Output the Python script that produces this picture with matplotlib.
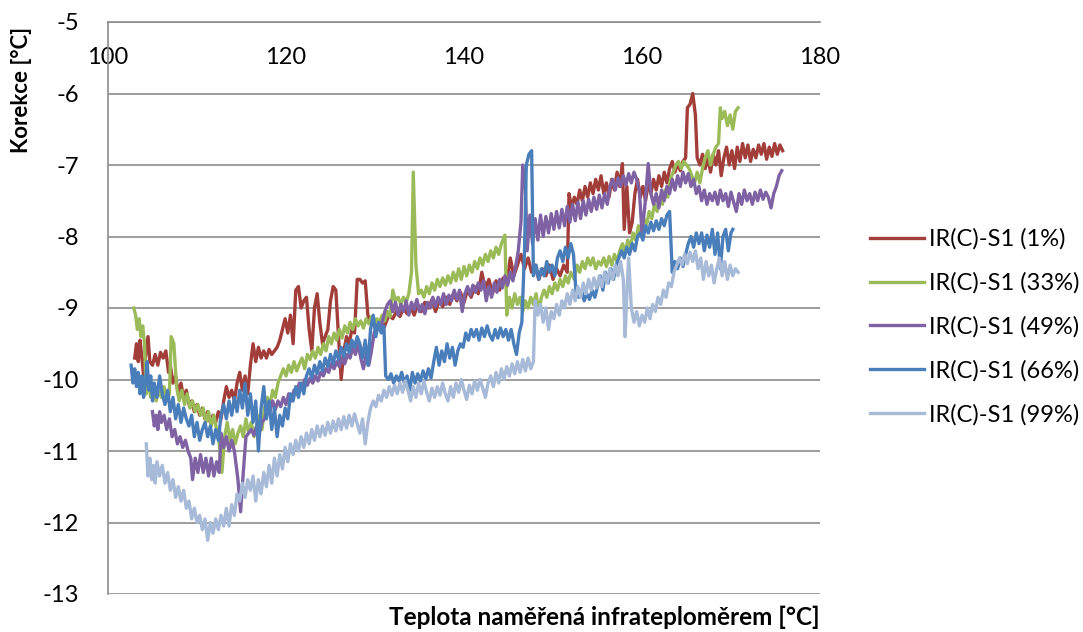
import matplotlib
matplotlib.use('Agg')
import matplotlib.pyplot as plt
import numpy as np

# values, (temperature, correction) pairs per series
red_pts = [(103.0,-9.70),(103.2,-9.50),(103.4,-9.75),(103.6,-9.45),(103.8,-9.68),(104.0,-9.95),(104.2,-9.70),(104.5,-9.40),
    (104.7,-9.75),(105.0,-9.80),(105.3,-9.65),(105.6,-9.80),(105.9,-9.62),(106.2,-9.70),(106.5,-9.60),(106.8,-9.90),(107.0,-9.80),
    (107.3,-10.05),(107.6,-9.95),(107.9,-10.20),(108.2,-10.05),(108.5,-10.25),(108.8,-10.15),(109.1,-10.35),(109.4,-10.30),
    (109.7,-10.45),(110.0,-10.35),(110.3,-10.50),(110.6,-10.40),(110.9,-10.55),(111.2,-10.45),(111.5,-10.60),(111.8,-10.50),
    (112.1,-10.60),(112.4,-10.45),(112.7,-10.55),(113.0,-10.30),(113.3,-10.10),(113.6,-10.25),(113.9,-10.15),(114.2,-10.30),
    (114.5,-10.05),(114.8,-9.90),(115.1,-10.15),(115.4,-9.95),(115.7,-10.20),(116.0,-9.80),(116.3,-9.50),(116.6,-9.75),
    (116.9,-9.55),(117.2,-9.70),(117.5,-9.60),(117.8,-9.70),(118.1,-9.58),(118.4,-9.65),(118.7,-9.60),(119.0,-9.55),(119.3,-9.45),
    (119.6,-9.30),(119.9,-9.15),(120.2,-9.35),(120.5,-9.10),(120.8,-9.50),(121.1,-8.75),(121.4,-8.70),(121.7,-9.00),(122.0,-8.90),
    (122.3,-8.85),(122.6,-9.30),(122.9,-9.60),(123.2,-9.00),(123.5,-8.80),(123.8,-9.20),(124.1,-9.50),(124.4,-9.40),(124.7,-9.30),
    (125.0,-8.90),(125.3,-8.70),(125.6,-8.75),(125.9,-9.40),(126.2,-10.00),(126.5,-9.60),(126.8,-9.40),(127.1,-9.50),(127.4,-9.30),
    (127.7,-9.35),(128.0,-8.60),(128.3,-8.60),(128.6,-8.65),(128.9,-8.62),(129.2,-9.10),(129.5,-9.20),(129.8,-9.15),(130.1,-9.25),
    (130.4,-9.30),(130.7,-9.20),(131.0,-9.28),(131.3,-9.18),(131.6,-9.10),(132.0,-9.15),(132.4,-9.05),(132.8,-9.12),(133.2,-9.00),
    (133.6,-9.08),(134.0,-8.98),(134.4,-9.10),(134.8,-8.95),(135.2,-9.05),(135.6,-8.92),(136.0,-9.00),(136.4,-8.88),(136.8,-9.05),
    (137.2,-8.90),(137.6,-8.98),(138.0,-8.85),(138.4,-8.95),(138.8,-8.80),(139.2,-8.90),(139.6,-8.78),(140.0,-8.92),(140.4,-8.75),
    (140.8,-8.85),(141.2,-8.70),(141.6,-8.80),(142.0,-8.50),(142.4,-8.72),(142.8,-8.60),(143.2,-8.80),(143.6,-8.62),(144.0,-8.75),
    (144.4,-8.58),(144.8,-8.70),(145.2,-8.30),(145.6,-8.55),(146.0,-8.40),(146.4,-8.25),(146.8,-8.45),(147.2,-8.30),(147.6,-8.50),
    (148.0,-8.40),(148.4,-8.60),(148.8,-8.45),(149.2,-8.55),(149.6,-8.40),(150.0,-8.60),(150.4,-8.45),(150.8,-8.55),(151.2,-8.40),
    (151.6,-8.50),(151.8,-7.40),(152.1,-7.60),(152.4,-7.45),(152.7,-7.55),(153.0,-7.35),(153.3,-7.50),(153.6,-7.30),(153.9,-7.45),
    (154.2,-7.25),(154.5,-7.40),(154.8,-7.20),(155.1,-7.35),(155.4,-7.15),(155.7,-7.40),(156.0,-7.25),(156.3,-7.45),(156.6,-7.20),
    (156.9,-7.35),(157.2,-7.10),(157.5,-7.30),(157.8,-6.98),(158.0,-7.90),(158.3,-7.30),(158.6,-7.95),(158.9,-7.80),(159.2,-7.40),
    (159.5,-7.20),(159.8,-7.45),(160.1,-7.30),(160.4,-7.50),(160.7,-7.25),(161.0,-7.40),(161.3,-7.20),(161.6,-7.35),(161.9,-7.15),
    (162.2,-7.30),(162.5,-7.10),(162.8,-7.25),(163.1,-7.05),(163.4,-6.95),(163.7,-7.10),(164.0,-6.98),(164.3,-7.08),(164.6,-6.95),
    (164.9,-6.90),(165.1,-6.20),(165.4,-6.15),(165.7,-6.00),(166.0,-6.30),(166.2,-6.90),(166.5,-7.00),(166.8,-6.85),(167.1,-7.05),
    (167.4,-6.90),(167.7,-7.10),(168.0,-6.85),(168.3,-7.00),(168.6,-6.80),(168.9,-7.15),(169.2,-6.90),(169.5,-6.75),(169.8,-7.00),
    (170.1,-6.80),(170.4,-7.05),(170.7,-6.75),(171.0,-6.95),(171.3,-6.70),(171.6,-6.90),(171.9,-6.72),(172.2,-6.95),(172.5,-6.78),
    (172.8,-6.90),(173.1,-6.72),(173.4,-6.85),(173.7,-6.70),(174.0,-6.92),(174.3,-6.75),(174.6,-6.88),(174.9,-6.70),(175.2,-6.85),
    (175.5,-6.72),(175.8,-6.80)]

green_pts = [(102.9,-9.00),(103.1,-9.10),(103.3,-9.30),(103.5,-9.15),(103.7,-9.40),(103.9,-9.25),(104.1,-9.50),(104.3,-10.20),
    (104.5,-10.00),(104.8,-10.25),(105.1,-10.10),(105.4,-10.30),(105.7,-10.15),(106.0,-10.25),(106.3,-10.10),(106.6,-10.30),
    (106.9,-10.20),(107.1,-9.40),(107.4,-9.50),(107.7,-10.10),(108.0,-10.30),(108.3,-10.15),(108.6,-10.35),(108.9,-10.20),
    (109.2,-10.40),(109.5,-10.30),(109.8,-10.45),(110.1,-10.35),(110.4,-10.50),(110.7,-10.40),(111.0,-10.60),(111.3,-10.45),
    (111.6,-10.65),(111.9,-10.50),(112.2,-10.70),(112.5,-10.90),(112.8,-11.30),(113.1,-10.80),(113.4,-10.60),(113.7,-10.85),
    (114.0,-10.70),(114.3,-10.90),(114.6,-10.75),(114.9,-10.65),(115.2,-10.80),(115.5,-10.55),(115.8,-10.75),(116.1,-10.60),
    (116.4,-10.80),(116.7,-10.65),(117.0,-10.50),(117.3,-10.70),(117.6,-10.40),(117.9,-10.25),(118.2,-10.35),(118.5,-10.15),
    (118.8,-10.25),(119.1,-10.05),(119.4,-9.95),(119.7,-9.85),(120.0,-9.95),(120.3,-9.80),(120.6,-9.90),(120.9,-9.75),(121.2,-9.88),
    (121.5,-9.78),(121.8,-9.70),(122.1,-9.85),(122.4,-9.65),(122.7,-9.72),(123.0,-9.60),(123.3,-9.70),(123.6,-9.55),(123.9,-9.65),
    (124.2,-9.50),(124.5,-9.60),(124.8,-9.40),(125.1,-9.50),(125.4,-9.35),(125.7,-9.45),(126.0,-9.30),(126.3,-9.42),(126.6,-9.25),
    (126.9,-9.35),(127.2,-9.20),(127.5,-9.30),(127.8,-9.15),(128.1,-9.25),(128.4,-9.18),(128.7,-9.28),(129.0,-9.15),(129.3,-9.22),
    (129.6,-9.12),(129.9,-9.25),(130.2,-9.15),(130.5,-9.20),(130.8,-9.10),(131.1,-9.18),(131.4,-9.05),(131.7,-9.12),(132.0,-8.75),
    (132.3,-8.90),(132.6,-8.85),(132.9,-8.95),(133.2,-8.85),(133.5,-8.92),(133.8,-8.80),(134.1,-8.50),(134.3,-7.10),(134.6,-8.40),
    (134.9,-8.80),(135.2,-8.75),(135.5,-8.85),(135.8,-8.70),(136.1,-8.80),(136.4,-8.65),(136.7,-8.75),(137.0,-8.60),(137.3,-8.70),
    (137.6,-8.58),(137.9,-8.68),(138.2,-8.55),(138.5,-8.65),(138.8,-8.50),(139.1,-8.62),(139.4,-8.45),(139.7,-8.60),(140.0,-8.42),
    (140.3,-8.55),(140.6,-8.40),(140.9,-8.50),(141.2,-8.35),(141.5,-8.45),(141.8,-8.30),(142.1,-8.40),(142.4,-8.25),(142.7,-8.35),
    (143.0,-8.20),(143.3,-8.30),(143.6,-8.15),(143.9,-8.25),(144.2,-8.10),(144.6,-7.98),(144.8,-9.10),(145.1,-8.85),(145.4,-9.00),
    (145.7,-8.80),(146.0,-8.95),(146.3,-8.85),(146.6,-9.05),(146.9,-8.90),(147.2,-9.00),(147.5,-8.85),(147.8,-8.95),(148.1,-8.80),
    (148.4,-9.05),(148.7,-8.85),(149.0,-8.75),(149.3,-8.85),(149.6,-8.70),(149.9,-8.80),(150.2,-8.65),(150.5,-8.75),(150.8,-8.60),
    (151.1,-8.70),(151.4,-8.55),(151.7,-8.65),(152.0,-8.50),(152.4,-8.60),(152.7,-8.40),(153.0,-8.50),(153.3,-8.35),(153.6,-8.45),
    (153.9,-8.30),(154.2,-8.40),(154.5,-8.30),(154.8,-8.45),(155.1,-8.35),(155.4,-8.40),(155.7,-8.30),(156.0,-8.42),(156.3,-8.28),
    (156.6,-8.40),(156.9,-8.25),(157.2,-8.35),(157.5,-8.20),(157.8,-8.10),(158.1,-8.22),(158.4,-8.05),(158.7,-8.15),(159.0,-7.95),
    (159.3,-8.05),(159.6,-7.85),(159.9,-7.95),(160.2,-7.75),(160.5,-7.85),(160.8,-7.65),(161.1,-7.75),(161.4,-7.55),(161.7,-7.65),
    (162.0,-7.45),(162.3,-7.55),(162.6,-7.35),(162.9,-7.45),(163.2,-7.20),(163.5,-7.10),(163.8,-7.00),(164.1,-6.95),(164.4,-7.05),
    (164.7,-6.95),(165.0,-7.00),(165.3,-7.05),(165.6,-7.15),(165.9,-7.25),(166.2,-7.10),(166.5,-7.25),(166.8,-7.05),(167.1,-6.90),
    (167.4,-6.80),(167.7,-7.00),(168.0,-6.85),(168.3,-6.75),(168.6,-6.70),(168.8,-6.20),(169.0,-6.35),(169.3,-6.25),(169.6,-6.45),
    (169.9,-6.30),(170.2,-6.50),(170.5,-6.25),(170.8,-6.20)]

purple_pts = [(105.0,-10.45),(105.2,-10.65),(105.4,-10.50),(105.6,-10.70),(105.8,-10.45),(106.0,-10.60),(106.3,-10.50),
    (106.6,-10.70),(106.9,-10.55),(107.2,-10.80),(107.5,-10.70),(107.8,-10.90),(108.1,-10.80),(108.4,-10.95),(108.7,-10.85),
    (109.0,-11.00),(109.3,-11.10),(109.5,-11.40),(109.8,-11.10),(110.1,-11.30),(110.4,-11.05),(110.7,-11.30),(111.0,-11.10),
    (111.3,-11.35),(111.6,-11.10),(111.9,-11.35),(112.2,-11.15),(112.5,-11.30),(112.7,-10.75),(113.0,-10.95),(113.3,-10.80),
    (113.6,-11.00),(113.9,-10.85),(114.2,-11.00),(114.6,-11.40),(114.9,-11.85),(115.2,-11.30),(115.5,-10.80),(115.8,-10.75),
    (116.1,-10.70),(116.4,-10.78),(116.7,-10.65),(117.0,-10.75),(117.3,-10.60),(117.6,-10.55),(117.9,-10.40),(118.2,-10.45),
    (118.5,-10.30),(118.8,-10.42),(119.1,-10.30),(119.4,-10.38),(119.7,-10.25),(120.0,-10.35),(120.3,-10.20),(120.6,-10.30),
    (120.9,-10.15),(121.2,-10.20),(121.5,-10.05),(121.8,-10.12),(122.1,-10.00),(122.4,-10.08),(122.7,-9.98),(123.0,-10.05),
    (123.3,-9.95),(123.6,-10.02),(123.9,-9.90),(124.2,-9.95),(124.5,-9.85),(124.8,-9.90),(125.1,-9.78),(125.4,-9.85),(125.7,-9.75),
    (126.0,-9.82),(126.3,-9.70),(126.6,-9.78),(126.9,-9.65),(127.2,-9.70),(127.5,-9.55),(127.8,-9.65),(128.1,-9.50),(128.4,-9.70),
    (128.7,-9.85),(129.0,-9.65),(129.3,-9.80),(129.6,-9.60),(129.9,-9.35),(130.2,-9.25),(130.5,-9.30),(130.8,-9.20),(131.1,-9.05),
    (131.4,-8.95),(131.7,-8.90),(132.0,-9.05),(132.3,-8.92),(132.6,-9.10),(132.9,-8.95),(133.2,-9.05),(133.5,-8.90),(133.8,-9.10),
    (134.1,-8.92),(134.4,-9.02),(134.7,-8.88),(135.0,-9.05),(135.3,-8.95),(135.6,-9.08),(135.9,-8.92),(136.2,-9.00),(136.5,-8.85),
    (136.8,-8.98),(137.1,-8.85),(137.4,-8.95),(137.7,-8.80),(138.0,-8.95),(138.3,-8.82),(138.6,-8.90),(138.9,-8.75),(139.2,-8.88),
    (139.5,-8.75),(139.8,-9.05),(140.1,-8.80),(140.4,-8.70),(140.7,-8.82),(141.0,-8.68),(141.3,-8.78),(141.6,-8.65),(141.9,-8.75),
    (142.2,-8.62),(142.5,-8.90),(142.8,-8.70),(143.1,-8.85),(143.4,-8.65),(143.7,-8.78),(144.0,-8.60),(144.3,-8.72),(144.6,-8.55),
    (144.9,-8.68),(145.2,-8.50),(145.5,-8.62),(145.8,-8.42),(146.1,-8.20),(146.4,-7.80),(146.6,-7.00),(146.9,-7.30),(147.1,-8.20),
    (147.4,-7.70),(147.7,-8.10),(148.0,-7.75),(148.3,-8.05),(148.6,-7.70),(148.9,-8.00),(149.2,-7.72),(149.5,-7.95),(149.8,-7.68),
    (150.1,-7.90),(150.4,-7.65),(150.7,-7.88),(151.0,-7.62),(151.3,-7.85),(151.6,-7.58),(151.9,-7.80),(152.2,-7.55),(152.5,-7.78),
    (152.8,-7.52),(153.1,-7.75),(153.4,-7.50),(153.7,-7.70),(154.0,-7.48),(154.3,-7.65),(154.6,-7.45),(154.9,-7.62),(155.2,-7.42),
    (155.5,-7.60),(155.8,-7.40),(156.1,-7.55),(156.4,-7.30),(156.7,-7.20),(157.0,-7.35),(157.3,-7.18),(157.6,-7.30),(157.9,-7.15),
    (158.2,-7.28),(158.5,-7.12),(158.8,-7.25),(159.1,-7.10),(159.4,-7.20),(159.7,-7.35),(160.0,-7.95),(160.3,-7.60),(160.7,-6.98),
    (161.0,-7.40),(161.3,-7.55),(161.6,-7.40),(161.9,-7.60),(162.2,-7.35),(162.5,-7.50),(162.8,-7.30),(163.1,-7.40),(163.4,-7.20),
    (163.7,-7.35),(164.0,-7.15),(164.3,-7.30),(164.6,-7.10),(164.9,-7.25),(165.2,-7.12),(165.5,-7.30),(165.8,-7.20),(166.1,-7.40),
    (166.4,-7.30),(166.7,-7.50),(167.0,-7.35),(167.3,-7.55),(167.6,-7.40),(167.9,-7.50),(168.2,-7.38),(168.5,-7.55),(168.8,-7.35),
    (169.1,-7.50),(169.4,-7.40),(169.7,-7.58),(170.0,-7.38),(170.3,-7.52),(170.6,-7.65),(170.9,-7.40),(171.2,-7.55),(171.5,-7.35),
    (171.8,-7.50),(172.1,-7.40),(172.4,-7.55),(172.7,-7.38),(173.0,-7.50),(173.3,-7.35),(173.6,-7.48),(173.9,-7.38),(174.2,-7.45),
    (174.5,-7.60),(174.8,-7.40),(175.1,-7.30),(175.4,-7.15),(175.7,-7.08)]

blue_pts = [(102.6,-9.80),(102.8,-10.05),(103.0,-9.85),(103.2,-10.10),(103.4,-9.90),(103.6,-10.20),(103.8,-9.95),(104.0,-10.25),
    (104.2,-10.05),(104.4,-9.75),(104.6,-10.15),(104.8,-9.95),(105.0,-10.30),(105.2,-10.05),(105.5,-10.25),(105.8,-9.95),
    (106.1,-10.20),(106.4,-10.35),(106.7,-10.15),(107.0,-10.45),(107.3,-10.25),(107.6,-10.55),(107.9,-10.35),(108.2,-10.60),
    (108.5,-10.40),(108.8,-10.55),(109.1,-10.65),(109.4,-10.50),(109.7,-10.80),(110.0,-10.60),(110.3,-10.85),(110.6,-10.70),
    (110.9,-10.60),(111.2,-10.80),(111.5,-10.65),(111.8,-10.90),(112.1,-10.70),(112.4,-10.85),(112.7,-10.50),(113.0,-10.35),
    (113.3,-10.55),(113.6,-10.30),(113.9,-10.50),(114.2,-10.25),(114.5,-10.45),(114.8,-10.15),(115.1,-10.40),(115.4,-10.05),
    (115.7,-10.50),(116.0,-10.20),(116.3,-10.60),(116.6,-10.30),(116.9,-11.00),(117.2,-10.40),(117.5,-10.10),(117.8,-10.55),
    (118.1,-10.30),(118.4,-10.70),(118.7,-10.40),(119.0,-10.80),(119.3,-10.50),(119.6,-10.65),(119.9,-10.40),(120.2,-10.55),
    (120.5,-10.20),(120.8,-10.30),(121.1,-10.10),(121.4,-10.25),(121.7,-10.05),(122.0,-10.20),(122.3,-9.95),(122.6,-9.85),
    (122.9,-9.98),(123.2,-9.80),(123.5,-9.92),(123.8,-9.75),(124.1,-9.88),(124.4,-9.70),(124.7,-9.82),(125.0,-9.65),(125.3,-9.78),
    (125.6,-9.60),(125.9,-9.72),(126.2,-9.55),(126.5,-9.68),(126.8,-9.50),(127.1,-9.62),(127.4,-9.45),(127.7,-9.55),(128.0,-9.40),
    (128.3,-9.50),(128.6,-9.70),(128.9,-9.45),(129.2,-9.80),(129.5,-9.30),(129.8,-9.10),(130.1,-9.40),(130.4,-9.20),(130.7,-9.35),
    (131.0,-9.25),(131.2,-9.95),(131.5,-10.00),(131.8,-9.92),(132.1,-10.05),(132.4,-9.95),(132.7,-10.02),(133.0,-9.90),
    (133.3,-10.05),(133.6,-9.95),(133.9,-10.15),(134.2,-9.90),(134.5,-10.05),(134.8,-9.92),(135.1,-10.02),(135.4,-9.88),
    (135.7,-10.00),(136.0,-9.85),(136.3,-9.98),(136.6,-9.75),(136.9,-9.55),(137.2,-9.80),(137.5,-9.60),(137.8,-9.75),(138.1,-9.50),
    (138.4,-9.70),(138.7,-9.55),(139.0,-9.80),(139.3,-9.60),(139.6,-9.50),(139.9,-9.55),(140.2,-9.35),(140.5,-9.45),(140.8,-9.30),
    (141.1,-9.40),(141.4,-9.30),(141.7,-9.45),(142.0,-9.28),(142.3,-9.40),(142.6,-9.25),(142.9,-9.38),(143.2,-9.45),(143.5,-9.30),
    (143.8,-9.42),(144.1,-9.28),(144.4,-9.40),(144.7,-9.30),(145.0,-9.45),(145.3,-9.30),(145.6,-9.50),(145.9,-9.65),(146.2,-9.35),
    (146.5,-9.20),(146.8,-8.20),(147.0,-7.00),(147.3,-6.85),(147.6,-6.80),(147.8,-8.55),(148.1,-8.40),(148.4,-8.60),(148.7,-8.45),
    (149.0,-8.55),(149.3,-8.35),(149.6,-8.50),(149.9,-8.40),(150.2,-8.55),(150.5,-8.30),(150.8,-8.20),(151.1,-8.35),(151.4,-8.15),
    (151.7,-8.30),(152.0,-8.10),(152.3,-8.25),(152.6,-8.80),(152.9,-8.85),(153.2,-8.75),(153.5,-8.90),(153.8,-8.80),(154.1,-8.88),
    (154.4,-8.75),(154.7,-8.85),(155.0,-8.70),(155.3,-8.55),(155.6,-8.75),(155.9,-8.50),(156.2,-8.65),(156.5,-8.45),(156.8,-8.60),
    (157.1,-8.40),(157.4,-8.30),(157.7,-8.20),(158.0,-8.30),(158.3,-8.15),(158.6,-8.25),(158.9,-8.10),(159.2,-8.20),(159.5,-8.00),
    (159.8,-7.95),(160.1,-8.05),(160.4,-7.85),(160.7,-7.95),(161.0,-7.80),(161.3,-7.92),(161.6,-7.78),(161.9,-7.90),(162.2,-7.75),
    (162.5,-7.85),(162.8,-7.70),(163.1,-7.65),(163.4,-8.50),(163.7,-8.35),(164.0,-8.45),(164.3,-8.30),(164.6,-8.42),(164.9,-8.25),
    (165.2,-8.10),(165.5,-8.00),(165.8,-8.15),(166.1,-7.95),(166.4,-8.10),(166.7,-7.95),(167.0,-8.20),(167.3,-7.98),(167.6,-8.15),
    (167.9,-7.90),(168.2,-8.25),(168.5,-7.95),(168.8,-8.45),(169.1,-8.00),(169.4,-7.90),(169.7,-8.20),(170.0,-7.95),(170.2,-7.90)]

lightblue_pts = [(104.3,-10.90),(104.5,-11.35),(104.7,-11.10),(104.9,-11.40),(105.1,-11.20),(105.3,-11.45),(105.5,-11.15),
    (105.8,-11.35),(106.1,-11.20),(106.4,-11.45),(106.7,-11.30),(107.0,-11.55),(107.3,-11.40),(107.6,-11.65),(107.9,-11.50),
    (108.2,-11.70),(108.5,-11.55),(108.8,-11.80),(109.1,-11.70),(109.4,-11.95),(109.7,-11.80),(110.0,-12.00),(110.3,-11.90),
    (110.6,-12.10),(110.9,-11.95),(111.2,-12.25),(111.5,-12.00),(111.8,-12.15),(112.1,-11.95),(112.4,-12.10),(112.7,-11.90),
    (113.0,-12.05),(113.3,-11.80),(113.6,-12.05),(113.9,-11.75),(114.2,-11.90),(114.5,-11.60),(114.8,-11.70),(115.1,-11.45),
    (115.4,-11.65),(115.7,-11.40),(116.0,-11.55),(116.3,-11.35),(116.6,-11.70),(116.9,-11.40),(117.2,-11.60),(117.5,-11.30),
    (117.8,-11.50),(118.1,-11.20),(118.4,-11.45),(118.7,-11.10),(119.0,-11.35),(119.3,-11.05),(119.6,-11.25),(119.9,-10.95),
    (120.2,-11.15),(120.5,-10.90),(120.8,-11.05),(121.1,-10.85),(121.4,-11.00),(121.7,-10.80),(122.0,-10.95),(122.3,-10.75),
    (122.6,-10.90),(122.9,-10.70),(123.2,-10.85),(123.5,-10.65),(123.8,-10.80),(124.1,-10.65),(124.4,-10.78),(124.7,-10.60),
    (125.0,-10.75),(125.3,-10.58),(125.6,-10.72),(125.9,-10.55),(126.2,-10.70),(126.5,-10.52),(126.8,-10.68),(127.1,-10.50),
    (127.4,-10.65),(127.7,-10.48),(128.0,-10.62),(128.3,-10.75),(128.6,-10.55),(128.9,-10.90),(129.2,-10.60),(129.5,-10.40),
    (129.8,-10.30),(130.1,-10.38),(130.4,-10.22),(130.7,-10.30),(131.0,-10.15),(131.3,-10.25),(131.6,-10.10),(131.9,-10.22),
    (132.2,-10.08),(132.5,-10.20),(132.8,-10.05),(133.1,-10.18),(133.4,-10.02),(133.7,-10.15),(134.0,-10.30),(134.3,-10.10),
    (134.6,-10.25),(134.9,-10.05),(135.2,-10.20),(135.5,-10.02),(135.8,-10.18),(136.1,-10.30),(136.4,-10.12),(136.7,-10.25),
    (137.0,-10.10),(137.3,-10.22),(137.6,-10.05),(137.9,-10.20),(138.2,-10.30),(138.5,-10.10),(138.8,-10.25),(139.1,-10.05),
    (139.4,-10.18),(139.7,-10.00),(140.0,-10.15),(140.3,-10.28),(140.6,-10.08),(140.9,-10.20),(141.2,-10.02),(141.5,-10.15),
    (141.8,-10.00),(142.1,-10.12),(142.4,-10.25),(142.7,-10.05),(143.0,-9.95),(143.3,-10.10),(143.6,-9.90),(143.9,-10.05),
    (144.2,-9.85),(144.5,-10.00),(144.8,-9.82),(145.1,-9.95),(145.4,-9.78),(145.7,-9.92),(146.0,-9.75),(146.3,-9.90),(146.6,-9.72),
    (146.9,-9.88),(147.2,-9.70),(147.5,-9.85),(147.8,-9.75),(148.0,-8.90),(148.3,-9.10),(148.6,-8.95),(148.9,-9.20),(149.2,-9.00),
    (149.5,-9.30),(149.8,-9.05),(150.1,-9.15),(150.4,-8.95),(150.7,-9.10),(151.0,-8.90),(151.3,-9.00),(151.6,-8.80),(151.9,-8.95),
    (152.2,-8.75),(152.5,-8.90),(152.8,-8.70),(153.1,-8.85),(153.4,-8.65),(153.7,-8.80),(154.0,-8.60),(154.3,-8.75),(154.6,-8.58),
    (154.9,-8.72),(155.2,-8.55),(155.5,-8.70),(155.8,-8.50),(156.1,-8.65),(156.4,-8.45),(156.7,-8.60),(157.0,-8.40),(157.3,-8.55),
    (157.6,-8.35),(157.9,-8.60),(158.1,-9.40),(158.3,-8.80),(158.5,-8.30),(158.8,-9.00),(159.1,-9.20),(159.4,-9.05),(159.7,-9.25),
    (160.0,-9.10),(160.3,-9.20),(160.6,-9.00),(160.9,-9.15),(161.2,-8.95),(161.5,-9.05),(161.8,-8.85),(162.1,-8.95),(162.4,-8.75),
    (162.7,-8.85),(163.0,-8.65),(163.3,-8.70),(163.6,-8.50),(163.9,-8.40),(164.2,-8.30),(164.5,-8.40),(164.8,-8.25),(165.1,-8.38),
    (165.4,-8.22),(165.7,-8.35),(166.0,-8.20),(166.3,-8.45),(166.6,-8.30),(166.9,-8.60),(167.2,-8.35),(167.5,-8.55),(167.8,-8.40),
    (168.1,-8.65),(168.4,-8.45),(168.7,-8.30),(169.0,-8.55),(169.3,-8.35),(169.6,-8.60),(169.9,-8.40),(170.2,-8.55),(170.5,-8.45),
    (170.8,-8.50)]

series_names = ['IR(C)-S1 (1%)', 'IR(C)-S1 (33%)', 'IR(C)-S1 (49%)', 'IR(C)-S1 (66%)', 'IR(C)-S1 (99%)']
series_colors = ['#A23E39', '#9BBB59', '#7F62A3', '#4A7EBB', '#A7BAD8']
x_ticks = [100, 120, 140, 160, 180]
y_ticks = [-5, -6, -7, -8, -9, -10, -11, -12, -13]

plt.rcParams['font.family'] = ['Lato', 'DejaVu Sans']
plt.rcParams['axes.unicode_minus'] = False

fig = plt.figure(figsize=(10.83, 6.32), dpi=100)
ax = fig.add_axes([108/1083, 1 - 594/632, (820 - 108)/1083, (594 - 22)/632])

all_pts = [red_pts, green_pts, purple_pts, blue_pts, lightblue_pts]
for pts, name, col in zip(all_pts, series_names, series_colors):
    xs, ys = zip(*pts)
    ax.plot(xs, ys, color=col, lw=2.4, label=name, solid_joinstyle='round')

ax.set_xlim(100, 180)
ax.set_ylim(-13, -5)
ax.set_xticks(x_ticks)
ax.set_yticks(y_ticks)
ax.grid(axis='y', color='#8c8c8c', lw=1.2)
ax.set_axisbelow(True)

for s in ['right', 'bottom']:
    ax.spines[s].set_visible(False)
for s in ['left', 'top']:
    ax.spines[s].set_color('#8c8c8c')
    ax.spines[s].set_linewidth(1.2)

ax.xaxis.set_ticks_position('top')
ax.tick_params(axis='x', length=0, labelsize=17, pad=-33, labeltop=True, labelbottom=False)
ax.tick_params(axis='y', length=0, labelsize=17, pad=21)

fig.text(22/1083, 1 - 90/632, 'Korekce [°C]', rotation=90, ha='center', va='center',
         fontsize=16, fontweight='bold')
fig.text(820/1083, 1 - 617/632, 'Teplota naměřená infrateploměrem [°C]', ha='right', va='center',
         fontsize=17.5, fontweight='bold')

ax.legend(loc='center left', bbox_to_anchor=(870/1083, 1 - 327/632), bbox_transform=fig.transFigure,
          frameon=False, fontsize=17, handlelength=2.3, labelspacing=0.95, handletextpad=0.2,
          borderpad=0, borderaxespad=0)

fig.savefig('out.png', dpi=100)
